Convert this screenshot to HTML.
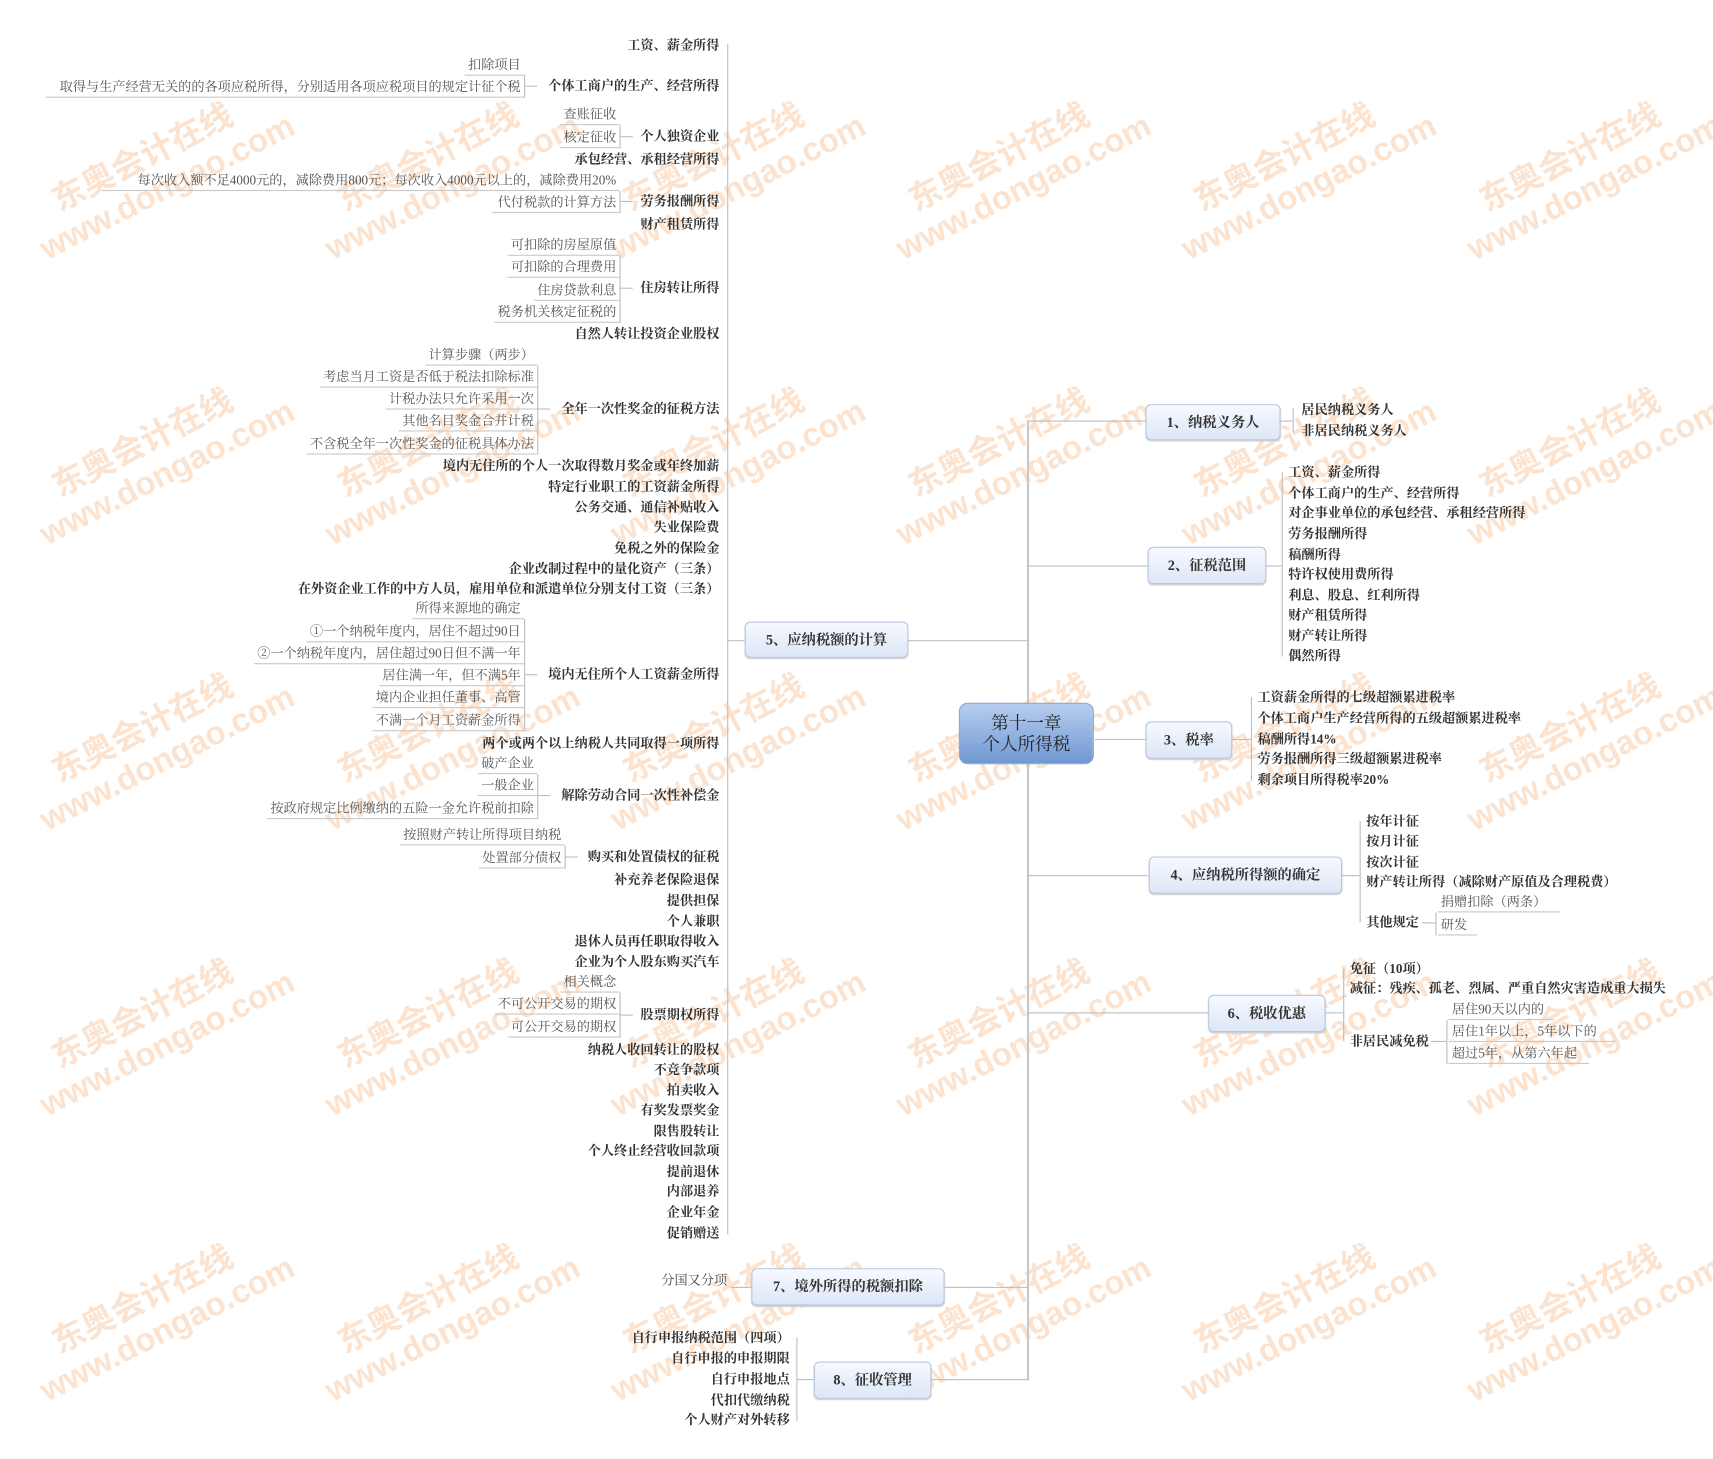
<!DOCTYPE html>
<html><head><meta charset="utf-8">
<style>
html,body{margin:0;padding:0;background:#fff;width:1713px;height:1459px;overflow:hidden}
#w{position:absolute;left:-3px;top:0;width:1560px;height:1329px;transform:scale(1.098);transform-origin:0 0;font-family:"Liberation Serif","Noto Serif CJK SC",serif;color:#333}
#w div{position:absolute;white-space:nowrap}
.b{font-size:12px;font-weight:bold;line-height:16px;color:#333}
.g{font-size:12px;line-height:15px;color:#555;border-bottom:1px solid #c8c8c8;padding:0 3px 1px 3px}
.r{font-size:12px;font-weight:bold;line-height:16px;color:#333}
.n{background:linear-gradient(#f6f9ff,#dde7f7);border:1px solid #b9c7dd;border-radius:5px;font-size:13px;font-weight:bold;color:#333;line-height:31px;text-align:center;box-shadow:0 1px 1px #ccc}
.v{width:1px;background:#bdbdbd}
.h{height:1px;background:#bdbdbd}
.wm{color:rgba(246,170,110,0.33);font-family:"Liberation Sans","Noto Sans CJK SC",sans-serif;font-weight:bold;transform:rotate(-27deg);transform-origin:0 0;line-height:34px}
</style></head><body><div id="w">

<div class="wm" style="left:45px;top:170px;font-size:30px">东奥会计在线<br><span style="margin-left:-30px">www.dongao.com</span></div>
<div class="wm" style="left:305px;top:170px;font-size:30px">东奥会计在线<br><span style="margin-left:-30px">www.dongao.com</span></div>
<div class="wm" style="left:565px;top:170px;font-size:30px">东奥会计在线<br><span style="margin-left:-30px">www.dongao.com</span></div>
<div class="wm" style="left:825px;top:170px;font-size:30px">东奥会计在线<br><span style="margin-left:-30px">www.dongao.com</span></div>
<div class="wm" style="left:1085px;top:170px;font-size:30px">东奥会计在线<br><span style="margin-left:-30px">www.dongao.com</span></div>
<div class="wm" style="left:1345px;top:170px;font-size:30px">东奥会计在线<br><span style="margin-left:-30px">www.dongao.com</span></div>
<div class="wm" style="left:45px;top:430px;font-size:30px">东奥会计在线<br><span style="margin-left:-30px">www.dongao.com</span></div>
<div class="wm" style="left:305px;top:430px;font-size:30px">东奥会计在线<br><span style="margin-left:-30px">www.dongao.com</span></div>
<div class="wm" style="left:565px;top:430px;font-size:30px">东奥会计在线<br><span style="margin-left:-30px">www.dongao.com</span></div>
<div class="wm" style="left:825px;top:430px;font-size:30px">东奥会计在线<br><span style="margin-left:-30px">www.dongao.com</span></div>
<div class="wm" style="left:1085px;top:430px;font-size:30px">东奥会计在线<br><span style="margin-left:-30px">www.dongao.com</span></div>
<div class="wm" style="left:1345px;top:430px;font-size:30px">东奥会计在线<br><span style="margin-left:-30px">www.dongao.com</span></div>
<div class="wm" style="left:45px;top:690px;font-size:30px">东奥会计在线<br><span style="margin-left:-30px">www.dongao.com</span></div>
<div class="wm" style="left:305px;top:690px;font-size:30px">东奥会计在线<br><span style="margin-left:-30px">www.dongao.com</span></div>
<div class="wm" style="left:565px;top:690px;font-size:30px">东奥会计在线<br><span style="margin-left:-30px">www.dongao.com</span></div>
<div class="wm" style="left:825px;top:690px;font-size:30px">东奥会计在线<br><span style="margin-left:-30px">www.dongao.com</span></div>
<div class="wm" style="left:1085px;top:690px;font-size:30px">东奥会计在线<br><span style="margin-left:-30px">www.dongao.com</span></div>
<div class="wm" style="left:1345px;top:690px;font-size:30px">东奥会计在线<br><span style="margin-left:-30px">www.dongao.com</span></div>
<div class="wm" style="left:45px;top:950px;font-size:30px">东奥会计在线<br><span style="margin-left:-30px">www.dongao.com</span></div>
<div class="wm" style="left:305px;top:950px;font-size:30px">东奥会计在线<br><span style="margin-left:-30px">www.dongao.com</span></div>
<div class="wm" style="left:565px;top:950px;font-size:30px">东奥会计在线<br><span style="margin-left:-30px">www.dongao.com</span></div>
<div class="wm" style="left:825px;top:950px;font-size:30px">东奥会计在线<br><span style="margin-left:-30px">www.dongao.com</span></div>
<div class="wm" style="left:1085px;top:950px;font-size:30px">东奥会计在线<br><span style="margin-left:-30px">www.dongao.com</span></div>
<div class="wm" style="left:1345px;top:950px;font-size:30px">东奥会计在线<br><span style="margin-left:-30px">www.dongao.com</span></div>
<div class="wm" style="left:45px;top:1210px;font-size:30px">东奥会计在线<br><span style="margin-left:-30px">www.dongao.com</span></div>
<div class="wm" style="left:305px;top:1210px;font-size:30px">东奥会计在线<br><span style="margin-left:-30px">www.dongao.com</span></div>
<div class="wm" style="left:565px;top:1210px;font-size:30px">东奥会计在线<br><span style="margin-left:-30px">www.dongao.com</span></div>
<div class="wm" style="left:825px;top:1210px;font-size:30px">东奥会计在线<br><span style="margin-left:-30px">www.dongao.com</span></div>
<div class="wm" style="left:1085px;top:1210px;font-size:30px">东奥会计在线<br><span style="margin-left:-30px">www.dongao.com</span></div>
<div class="wm" style="left:1345px;top:1210px;font-size:30px">东奥会计在线<br><span style="margin-left:-30px">www.dongao.com</span></div>

<div class="v" style="left:665px;top:40px;height:1084px"></div>
<div class="v" style="left:938px;top:383px;height:874px;width:2px;background:#c8c8c8"></div>
<div class="h" style="left:665px;top:583px;width:16px"></div>
<div class="h" style="left:829px;top:583px;width:110px"></div>
<div class="h" style="left:938px;top:383px;width:108px"></div>
<div class="h" style="left:938px;top:515px;width:110px"></div>
<div class="h" style="left:1000px;top:673px;width:46px"></div>
<div class="h" style="left:938px;top:797px;width:111px"></div>
<div class="h" style="left:938px;top:922px;width:165px"></div>
<div class="h" style="left:862px;top:1172px;width:77px"></div>
<div class="h" style="left:850px;top:1256px;width:89px"></div>

<div style="left:876px;top:640px;width:123px;height:56px;border-radius:8px;background:linear-gradient(#b7cdee,#7098d2);border:1px solid #8aa5cf;text-align:center;font-size:16px;line-height:19px;color:#222;padding-top:9px;box-sizing:border-box">第十一章<br>个人所得税</div>

<div class="n" style="left:1046px;top:368px;width:121px;height:31px">1、纳税义务人</div>
<div class="n" style="left:1048px;top:498px;width:106px;height:32px">2、征税范围</div>
<div class="n" style="left:1046px;top:657px;width:77px;height:32px">3、税率</div>
<div class="n" style="left:1049px;top:780px;width:174px;height:32px">4、应纳税所得额的确定</div>
<div class="n" style="left:1103px;top:906px;width:105px;height:32px">6、税收优惠</div>
<div class="n" style="left:681px;top:566px;width:147px;height:31px">5、应纳税额的计算</div>
<div class="n" style="left:687px;top:1155px;width:174px;height:32px">7、境外所得的税额扣除</div>
<div class="n" style="left:744px;top:1240px;width:105px;height:32px">8、征收管理</div>

<div class="h" style="left:1168px;top:383px;width:12px"></div>
<div class="v" style="left:1180px;top:372px;height:22px"></div>
<div class="r" style="left:1188px;top:365px">居民纳税义务人</div>
<div class="r" style="left:1188px;top:384px">非居民纳税义务人</div>

<div class="h" style="left:1155px;top:515px;width:15px"></div>
<div class="v" style="left:1170px;top:430px;height:168px"></div>
<div class="r" style="left:1176px;top:422px">工资、薪金所得</div>
<div class="r" style="left:1176px;top:441px">个体工商户的生产、经营所得</div>
<div class="r" style="left:1176px;top:459px">对企事业单位的承包经营、承租经营所得</div>
<div class="r" style="left:1176px;top:478px">劳务报酬所得</div>
<div class="r" style="left:1176px;top:497px">稿酬所得</div>
<div class="r" style="left:1176px;top:515px">特许权使用费所得</div>
<div class="r" style="left:1176px;top:534px">利息、股息、红利所得</div>
<div class="r" style="left:1176px;top:552px">财产租赁所得</div>
<div class="r" style="left:1176px;top:571px">财产转让所得</div>
<div class="r" style="left:1176px;top:589px">偶然所得</div>

<div class="h" style="left:1124px;top:673px;width:18px"></div>
<div class="v" style="left:1142px;top:635px;height:76px"></div>
<div class="r" style="left:1148px;top:627px">工资薪金所得的七级超额累进税率</div>
<div class="r" style="left:1148px;top:646px">个体工商户生产经营所得的五级超额累进税率</div>
<div class="r" style="left:1148px;top:665px">稿酬所得14%</div>
<div class="r" style="left:1148px;top:683px">劳务报酬所得三级超额累进税率</div>
<div class="r" style="left:1148px;top:702px">剩余项目所得税率20%</div>

<div class="h" style="left:1224px;top:797px;width:17px"></div>
<div class="v" style="left:1241px;top:748px;height:92px"></div>
<div class="r" style="left:1247px;top:740px">按年计征</div>
<div class="r" style="left:1247px;top:758px">按月计征</div>
<div class="r" style="left:1247px;top:777px">按次计征</div>
<div class="r" style="left:1247px;top:795px">财产转让所得（减除财产原值及合理税费）</div>
<div class="r" style="left:1247px;top:832px">其他规定</div>
<div class="h" style="left:1298px;top:840px;width:12px"></div>
<div class="v" style="left:1310px;top:831px;height:21px"></div>
<div class="g" style="left:1312px;top:814px;width:106px">捐赠扣除（两条）</div>
<div class="g" style="left:1312px;top:835px;width:30px">研发</div>

<div class="h" style="left:1209px;top:922px;width:17px"></div>
<div class="v" style="left:1226px;top:882px;height:66px"></div>
<div class="r" style="left:1232px;top:874px">免征（10项）</div>
<div class="r" style="left:1232px;top:892px">减征：残疾、孤老、烈属、严重自然灾害造成重大损失</div>
<div class="r" style="left:1232px;top:940px">非居民减免税</div>
<div class="h" style="left:1306px;top:948px;width:14px"></div>
<div class="v" style="left:1320px;top:929px;height:40px"></div>
<div class="g" style="left:1322px;top:912px;width:90px">居住90天以内的</div>
<div class="g" style="left:1322px;top:932px;width:146px">居住1年以上，5年以下的</div>
<div class="g" style="left:1322px;top:952px;width:122px">超过5年，从第六年起</div>

<div class="h" style="left:668px;top:1172px;width:19px"></div>
<div class="b" style="right:895px;top:1158px;font-weight:normal;color:#444">分国又分项</div>
<div class="h" style="left:728px;top:1256px;width:16px"></div>
<div class="v" style="left:728px;top:1218px;height:76px"></div>
<div class="b" style="right:838px;top:1210px">自行申报纳税范围（四项）</div>
<div class="b" style="right:838px;top:1229px">自行申报的申报期限</div>
<div class="b" style="right:838px;top:1248px">自行申报地点</div>
<div class="b" style="right:838px;top:1267px">代扣代缴纳税</div>
<div class="b" style="right:838px;top:1285px">个人财产对外转移</div>

<div class="b" style="right:902px;top:33px">工资、薪金所得</div>
<div class="b" style="right:902px;top:70px">个体工商户的生产、经营所得</div>
<div class="b" style="right:902px;top:116px">个人独资企业</div>
<div class="b" style="right:902px;top:137px">承包经营、承租经营所得</div>
<div class="b" style="right:902px;top:175px">劳务报酬所得</div>
<div class="b" style="right:902px;top:196px">财产租赁所得</div>
<div class="b" style="right:902px;top:254px">住房转让所得</div>
<div class="b" style="right:902px;top:296px">自然人转让投资企业股权</div>
<div class="b" style="right:902px;top:364px">全年一次性奖金的征税方法</div>
<div class="b" style="right:902px;top:416px">境内无住所的个人一次取得数月奖金或年终加薪</div>
<div class="b" style="right:902px;top:435px">特定行业职工的工资薪金所得</div>
<div class="b" style="right:902px;top:454px">公务交通、通信补贴收入</div>
<div class="b" style="right:902px;top:472px">失业保险费</div>
<div class="b" style="right:902px;top:491px">免税之外的保险金</div>
<div class="b" style="right:902px;top:510px">企业改制过程中的量化资产（三条）</div>
<div class="b" style="right:902px;top:528px">在外资企业工作的中方人员，雇用单位和派遣单位分别支付工资（三条）</div>
<div class="b" style="right:902px;top:606px">境内无住所个人工资薪金所得</div>
<div class="b" style="right:902px;top:669px">两个或两个以上纳税人共同取得一项所得</div>
<div class="b" style="right:902px;top:716px">解除劳动合同一次性补偿金</div>
<div class="b" style="right:902px;top:772px">购买和处置债权的征税</div>
<div class="b" style="right:902px;top:793px">补充养老保险退保</div>
<div class="b" style="right:902px;top:812px">提供担保</div>
<div class="b" style="right:902px;top:831px">个人兼职</div>
<div class="b" style="right:902px;top:849px">退休人员再任职取得收入</div>
<div class="b" style="right:902px;top:868px">企业为个人股东购买汽车</div>
<div class="b" style="right:902px;top:916px">股票期权所得</div>
<div class="b" style="right:902px;top:948px">纳税人收回转让的股权</div>
<div class="b" style="right:902px;top:966px">不竞争款项</div>
<div class="b" style="right:902px;top:985px">拍卖收入</div>
<div class="b" style="right:902px;top:1003px">有奖发票奖金</div>
<div class="b" style="right:902px;top:1022px">限售股转让</div>
<div class="b" style="right:902px;top:1040px">个人终止经营收回款项</div>
<div class="b" style="right:902px;top:1059px">提前退休</div>
<div class="b" style="right:902px;top:1077px">内部退养</div>
<div class="b" style="right:902px;top:1096px">企业年金</div>
<div class="b" style="right:902px;top:1115px">促销赠送</div>

<div class="h" style="left:480px;top:78px;width:12px"></div>
<div class="v" style="left:480px;top:68px;height:21px"></div>
<div class="g" style="right:1080px;top:52px">扣除项目</div>
<div class="g" style="right:1080px;top:72px;width:430px;text-align:right">取得与生产经营无关的的各项应税所得，分别适用各项应税项目的规定计征个税</div>
<div class="h" style="left:567px;top:124px;width:12px"></div>
<div class="v" style="left:567px;top:114px;height:21px"></div>
<div class="g" style="right:993px;top:97px">查账征收</div>
<div class="g" style="right:993px;top:118px">核定征收</div>
<div class="h" style="left:567px;top:183px;width:12px"></div>
<div class="v" style="left:567px;top:174px;height:20px"></div>
<div class="g" style="right:993px;top:157px;width:466px;text-align:right">每次收入额不足4000元的，减除费用800元；每次收入4000元以上的，减除费用20%</div>
<div class="g" style="right:993px;top:177px;width:110px;text-align:right">代付税款的计算方法</div>
<div class="h" style="left:567px;top:262px;width:12px"></div>
<div class="v" style="left:567px;top:233px;height:61px"></div>
<div class="g" style="right:993px;top:216px">可扣除的房屋原值</div>
<div class="g" style="right:993px;top:236px">可扣除的合理费用</div>
<div class="g" style="right:993px;top:257px">住房贷款利息</div>
<div class="g" style="right:993px;top:277px">税务机关核定征税的</div>
<div class="h" style="left:492px;top:372px;width:12px"></div>
<div class="v" style="left:492px;top:333px;height:81px"></div>
<div class="g" style="right:1068px;top:316px">计算步骤（两步）</div>
<div class="g" style="right:1068px;top:336px">考虑当月工资是否低于税法扣除标准</div>
<div class="g" style="right:1068px;top:356px">计税办法只允许采用一次</div>
<div class="g" style="right:1068px;top:376px">其他名目奖金合并计税</div>
<div class="g" style="right:1068px;top:397px">不含税全年一次性奖金的征税具体办法</div>
<div class="h" style="left:480px;top:614px;width:12px"></div>
<div class="v" style="left:480px;top:564px;height:102px"></div>
<div class="g" style="right:1080px;top:547px">所得来源地的确定</div>
<div class="g" style="right:1080px;top:568px">①一个纳税年度内，居住不超过90日</div>
<div class="g" style="right:1080px;top:588px">②一个纳税年度内，居住超过90日但不满一年</div>
<div class="g" style="right:1080px;top:608px">居住满一年，但不满5年</div>
<div class="g" style="right:1080px;top:628px">境内企业担任董事、高管</div>
<div class="g" style="right:1080px;top:649px">不满一个月工资薪金所得</div>
<div class="h" style="left:492px;top:724px;width:12px"></div>
<div class="v" style="left:492px;top:705px;height:41px"></div>
<div class="g" style="right:1068px;top:688px">破产企业</div>
<div class="g" style="right:1068px;top:708px">一般企业</div>
<div class="g" style="right:1068px;top:729px">按政府规定比例缴纳的五险一金允许税前扣除</div>
<div class="h" style="left:517px;top:780px;width:12px"></div>
<div class="v" style="left:517px;top:770px;height:21px"></div>
<div class="g" style="right:1043px;top:753px">按照财产转让所得项目纳税</div>
<div class="g" style="right:1043px;top:774px">处置部分债权</div>
<div class="h" style="left:567px;top:924px;width:12px"></div>
<div class="v" style="left:567px;top:904px;height:41px"></div>
<div class="g" style="right:993px;top:887px">相关概念</div>
<div class="g" style="right:993px;top:907px">不可公开交易的期权</div>
<div class="g" style="right:993px;top:928px">可公开交易的期权</div>

</div></body></html>
